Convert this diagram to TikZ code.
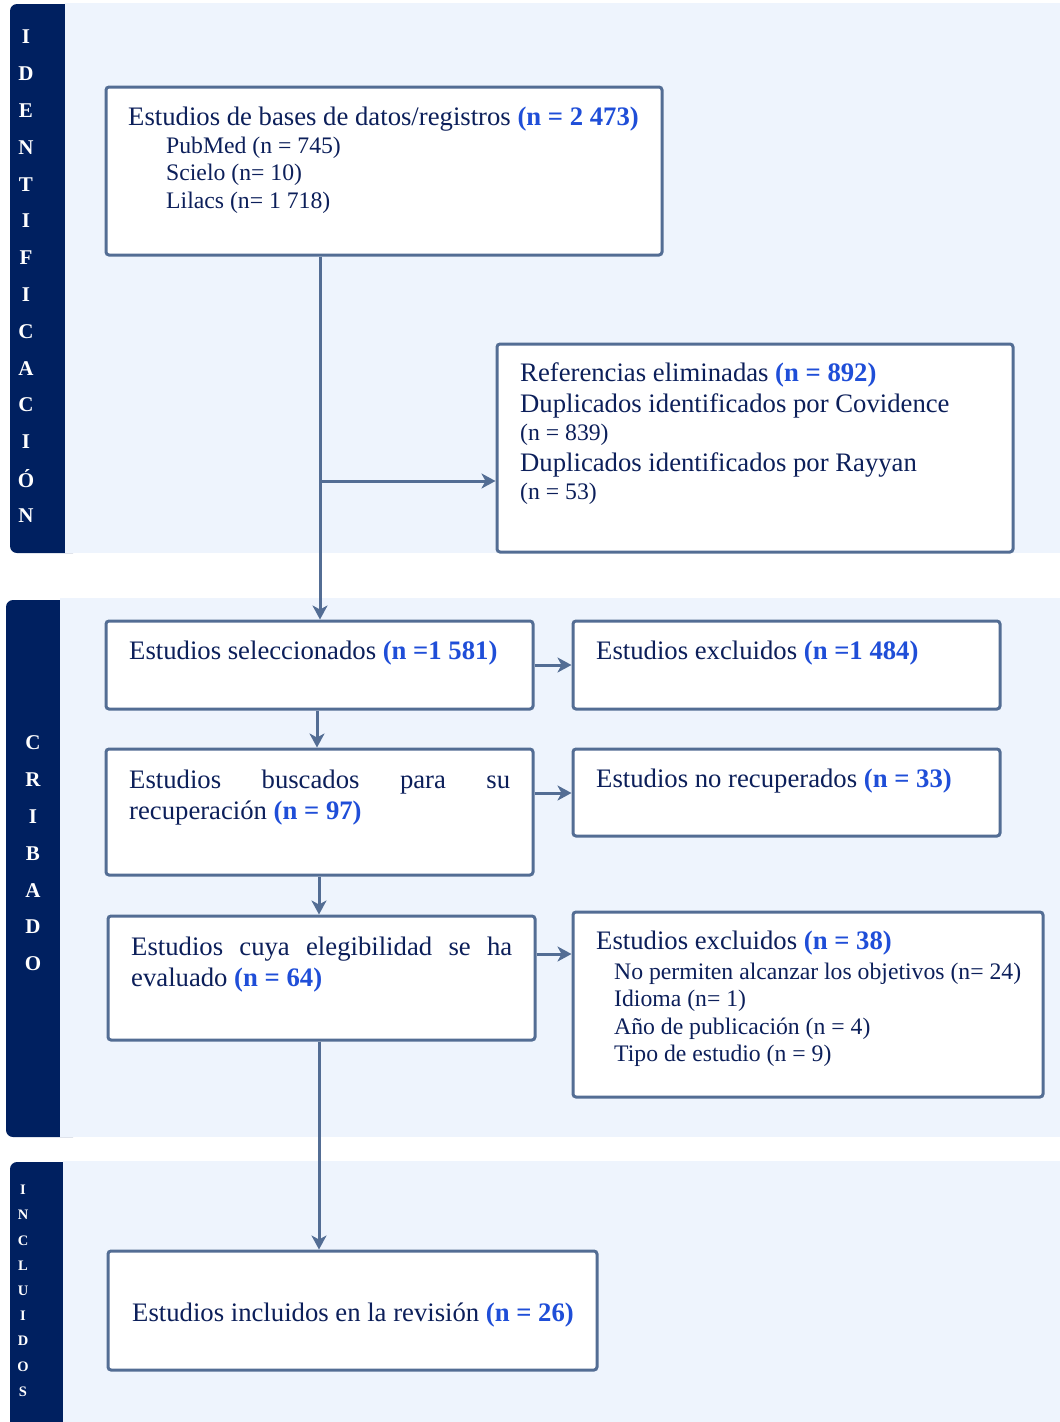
\documentclass[tikz,border=0pt]{standalone}
\usepackage{fontspec}
\setmainfont{Liberation Serif}
\usetikzlibrary{arrows.meta}
\definecolor{navy}{HTML}{002060}
\definecolor{panel}{HTML}{EEF4FD}
\definecolor{edge}{HTML}{536D94}
\definecolor{ink}{HTML}{0C1F5A}
\definecolor{nblue}{HTML}{1F4ED8}
\newcommand{\nn}[1]{\textcolor{nblue}{\textbf{#1}}}
\tikzset{
  box/.style={draw=edge, line width=3pt, fill=white, rounded corners=3pt, inner sep=0pt},
  txt/.style={text=ink, font=\fontsize{26.7}{30}\selectfont, inner sep=0pt, anchor=base west},
  sub/.style={text=ink, font=\fontsize{23.7}{28}\selectfont, inner sep=0pt, anchor=base west},
  side/.style={text=white, font=\bfseries\fontsize{21}{21}\selectfont, inner sep=0pt},
  sidesm/.style={text=white, font=\bfseries\fontsize{14.5}{14.5}\selectfont, inner sep=0pt},
  arr/.style={draw=edge, line width=3pt, -{Stealth[length=14pt,width=15pt,inset=4pt]}},
  ln/.style={draw=edge, line width=3pt}
}
\begin{document}
\begin{tikzpicture}[x=1pt,y=-1pt]
\useasboundingbox (0,0) rectangle (1060,1422);
% panels
\fill[navy, rounded corners=7pt] (10,4) rectangle (80,553);
\fill[panel] (65,3) rectangle (1060,553);
\fill[navy, rounded corners=7pt] (6,600) rectangle (80,1137);
\fill[panel] (60,598) rectangle (1060,1137);
\fill[navy, rounded corners=7pt] (10,1162) rectangle (80,1440);
\fill[panel] (63,1161) rectangle (1060,1422);
% side labels
\foreach \l [count=\i] in {I,D,E,N,T,I,F,I,C,A,C,I,Ó,N}
  \node[side] (id\i) at (26,{37+36.8*(\i-1)}) {\l};
\foreach \l [count=\i] in {C,R,I,B,A,D,O}
  \node[side] (cr\i) at (33,{743+36.8*(\i-1)}) {\l};
\foreach \l [count=\i] in {I,N,C,L,U,I,D,O,S}
  \node[sidesm] (in\i) at (23,{1190+25.2*(\i-1)}) {\l};
% boxes
\node[box, minimum width=556pt, minimum height=168pt] (b1) at (384,171) {};
\node[box, minimum width=516pt, minimum height=208pt] (b2) at (755,448) {};
\node[box, minimum width=427pt, minimum height=88pt] (b3) at (319.5,665) {};
\node[box, minimum width=427pt, minimum height=88pt] (b4) at (786.5,665) {};
\node[box, minimum width=427pt, minimum height=126pt] (b5) at (319.5,812) {};
\node[box, minimum width=427pt, minimum height=87pt] (b6) at (786.5,792.5) {};
\node[box, minimum width=427pt, minimum height=124pt] (b7) at (321.5,978) {};
\node[box, minimum width=470pt, minimum height=185pt] (b8) at (808,1004.5) {};
\node[box, minimum width=489pt, minimum height=119pt] (b9) at (352.5,1310.5) {};
% texts
\node[txt] (t1a) at (128,125) {Estudios de bases de datos/registros \nn{(n = 2 473)}};
\node[sub] (t1b) at (166,153) {PubMed (n = 745)};
\node[sub] (t1c) at (166,180) {Scielo (n= 10)};
\node[sub] (t1d) at (166,208) {Lilacs (n= 1 718)};
\node[txt] (t2a) at (520,381) {Referencias eliminadas \nn{(n = 892)}};
\node[txt] (t2b) at (520,412) {Duplicados identificados por Covidence};
\node[sub] (t2c) at (520,440) {(n = 839)};
\node[txt] (t2d) at (520,471) {Duplicados identificados por Rayyan};
\node[sub] (t2e) at (520,499) {(n = 53)};
\node[txt] (t3) at (129,659) {Estudios seleccionados \nn{(n =1 581)}};
\node[txt] (t4) at (596,659) {Estudios excluidos \nn{(n =1 484)}};
\node[txt] (t5a) at (129,788) {\makebox[381pt][s]{Estudios\hfill buscados\hfill para\hfill su}};
\node[txt] (t5b) at (129,819) {recuperación \nn{(n = 97)}};
\node[txt] (t6) at (596,787) {Estudios no recuperados \nn{(n = 33)}};
\node[txt] (t7a) at (131,955) {\makebox[381pt][s]{Estudios\hfill cuya\hfill elegibilidad\hfill se\hfill ha}};
\node[txt] (t7b) at (131,986) {evaluado \nn{(n = 64)}};
\node[txt] (t8a) at (596,949) {Estudios excluidos \nn{(n = 38)}};
\node[sub] (t8b) at (614,979) {No permiten alcanzar los objetivos (n= 24)};
\node[sub] (t8c) at (614,1006) {Idioma (n= 1)};
\node[sub] (t8d) at (614,1034) {Año de publicación (n = 4)};
\node[sub] (t8e) at (614,1061) {Tipo de estudio (n = 9)};
\node[txt] (t9) at (132,1321) {Estudios incluidos en la revisión \nn{(n = 26)}};
% connectors
\coordinate (j1) at (320,481);
\draw[arr] (b1.south -| j1) -- (b3.north -| j1);
\draw[arr] (j1) -- (j1 -| b2.west);
\draw[arr] (b3.south -| 317,0) -- (b5.north -| 317,0);
\draw[arr] (b5.south -| 319,0) -- (b7.north -| 319,0);
\draw[arr] (b7.south -| 319,0) -- (b9.north -| 319,0);
\draw[arr] (b3.east) -- (b4.west);
\draw[arr] (b5.east |- 0,793) -- (b6.west |- 0,793);
\draw[arr] (b7.east |- 0,954) -- (b8.west |- 0,954);
\end{tikzpicture}
\end{document}
